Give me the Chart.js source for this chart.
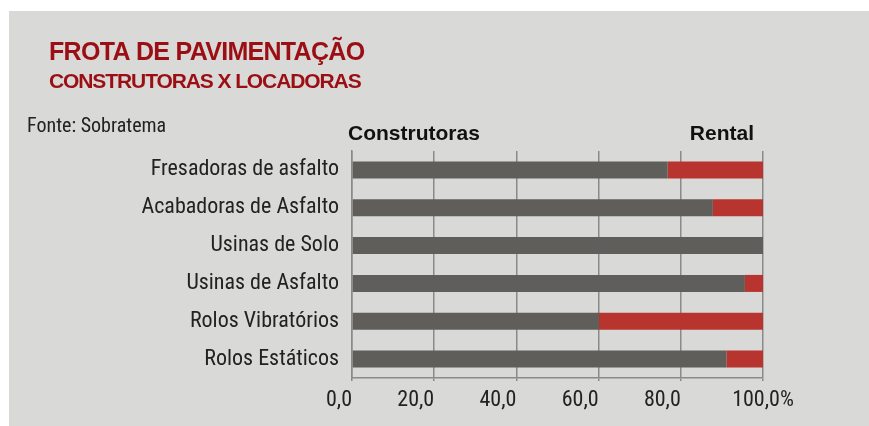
<!DOCTYPE html>
<html>
<head>
<meta charset="utf-8">
<script src="https://cdn.jsdelivr.net/npm/chart.js@4"></script>
<style>
  html, body { margin: 0; padding: 0; background: #ffffff; }
  #wrap { position: relative; width: 869px; height: 426px; overflow: hidden; }
  #panel { position: absolute; left: 9px; top: 11px; width: 860px; height: 415px; background: #d9d9d7; }
  #box { position: absolute; left: 0; top: 0; width: 869px; height: 426px; }
</style>
</head>
<body>
<div id="wrap">
  <div id="panel"></div>
  <div id="box"><canvas id="c"></canvas></div>
</div>
<script>
const titleText = "FROTA DE PAVIMENTAÇÃO";
const subtitleText = "CONSTRUTORAS X LOCADORAS";
const sourceText = "Fonte: Sobratema";
const categories = ["Fresadoras de asfalto", "Acabadoras de Asfalto", "Usinas de Solo", "Usinas de Asfalto", "Rolos Vibratórios", "Rolos Estáticos"];
const seriesNames = ["Construtoras", "Rental"];
const construtoras = [76.8, 87.8, 100, 95.6, 60.1, 91.1];
const rental = [23.2, 12.2, 0, 4.4, 39.9, 8.9];
const xTicks = [0, 20, 40, 60, 80, 100];

const NARROW = "'Roboto Condensed', 'DejaVu Sans Condensed', sans-serif";
const BOLD = "'Liberation Sans', Arial, sans-serif";

const textPlugin = {
  id: 'texts',
  beforeDraw(chart) {
    // centre the final "100,0%" label on its tick, as in the reference
    const xs = chart.scales.x;
    const items = xs.getLabelItems(chart.chartArea);
    if (items.length) {
      const last = items[items.length - 1];
      last.options = Object.assign({}, last.options, { textAlign: 'center' });
    }
  },
  afterDraw(chart) {
    const ctx = chart.ctx;
    const area = chart.chartArea;
    ctx.save();
    ctx.textBaseline = 'alphabetic';
    ctx.textAlign = 'left';
    ctx.fillStyle = '#9b0f14';
    ctx.font = "bold 25px " + BOLD;
    if ('letterSpacing' in ctx) ctx.letterSpacing = '-0.7px';
    ctx.fillText(titleText, 49, 60);
    ctx.font = "bold 21px " + BOLD;
    if ('letterSpacing' in ctx) ctx.letterSpacing = '-1.1px';
    ctx.fillText(subtitleText, 49, 88);
    if ('letterSpacing' in ctx) ctx.letterSpacing = '0px';
    ctx.fillStyle = '#222222';
    ctx.font = "400 20px " + NARROW;
    ctx.fillText(sourceText, 27, 132);
    ctx.fillStyle = '#111111';
    ctx.font = "bold 21px " + BOLD;
    ctx.textAlign = 'left';
    ctx.fillText(chart.data.datasets[0].label, area.left - 4, 140);
    ctx.textAlign = 'right';
    ctx.fillText(chart.data.datasets[1].label, area.right - 9, 140);
    ctx.restore();
  }
};

new Chart(document.getElementById('c'), {
  type: 'bar',
  data: {
    labels: categories,
    datasets: [
      { label: seriesNames[0], data: construtoras, backgroundColor: '#5f5e5a', borderWidth: 0 },
      { label: seriesNames[1], data: rental, backgroundColor: '#b7352e', borderWidth: 0 }
    ]
  },
  options: {
    indexAxis: 'y',
    responsive: true,
    maintainAspectRatio: false,
    animation: false,
    layout: { padding: { left: 0, right: 106, top: 151, bottom: 0 } },
    datasets: { bar: { barPercentage: 0.45, categoryPercentage: 1 } },
    plugins: { legend: { display: false }, tooltip: { enabled: false }, title: { display: false } },
    scales: {
      x: {
        stacked: true,
        min: 0,
        max: 100,
        afterBuildTicks(scale) { scale.ticks = xTicks.map(v => ({ value: v })); },
        afterFit(scale) { scale.height = 48; },
        grid: { color: '#8a8a8a', lineWidth: 1.5, drawTicks: true, tickLength: 3 },
        border: { color: '#8a8a8a', width: 1.5 },
        ticks: {
          align: 'end',
          padding: 6,
          color: '#222222',
          font: { family: NARROW, size: 22, weight: 400 },
          callback: (v) => v.toFixed(1).replace('.', ',') + (v === 100 ? '%' : '')
        }
      },
      y: {
        stacked: true,
        afterFit(scale) { scale.width = 352; },
        grid: { display: false, drawTicks: false },
        border: { color: '#8a8a8a', width: 1.5 },
        ticks: {
          padding: 13,
          color: '#222222',
          font: { family: NARROW, size: 22, weight: 400 }
        }
      }
    }
  },
  plugins: [textPlugin]
});
</script>
</body>
</html>
